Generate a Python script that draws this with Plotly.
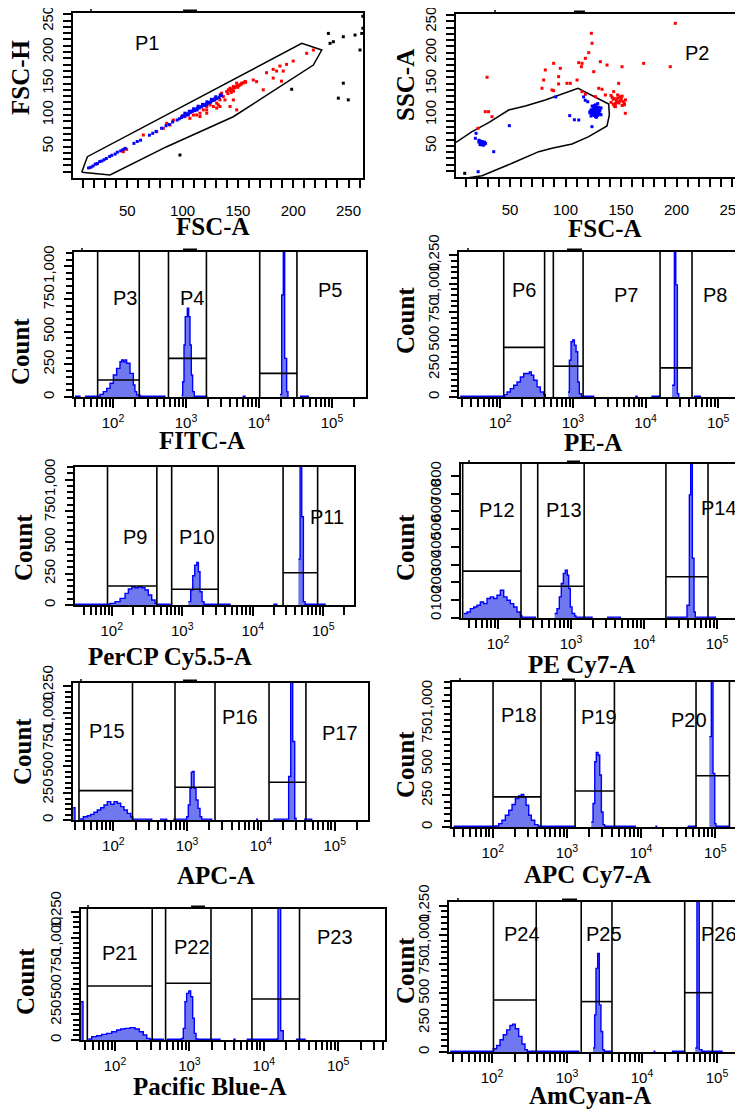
import plotly.graph_objects as go

# The page body adds an 8px margin, so reference pixel positions are shifted by OFF.
REF_W, REF_H, OFF = 743, 1109, 8
W, H = REF_W - OFF, REF_H - OFF

# ---------------- Panel P1 : FSC-H vs FSC-A ----------------
p1_gate_x = [8.8, 13.9, 207.7, 225.8, 218.2, 197.1, 145.8, 85.6, 34.4, 8.8]
p1_gate_y = [9.0, 33.8, 213.8, 203.2, 179.4, 155.6, 97.3, 49.7, 4.8, 9.0]
p1_blue_x = [15, 17, 19, 21, 23, 25, 27, 29, 31, 34, 36, 39, 41, 44, 46, 48, 56, 59, 62, 70,
             73, 76, 81, 85, 88, 91, 95, 97, 99, 101, 103, 105, 107, 109, 111, 113, 115, 117, 119, 121,
             123, 125, 127, 129, 131, 133, 135, 100, 104, 108, 112, 116, 120, 124, 128, 110, 118, 126, 114, 122,
             102, 106, 110, 114, 118, 122, 126, 130, 134, 105, 113, 121, 129]
p1_blue_y = [16, 17, 19, 22, 23, 26, 27, 29, 31, 34, 36, 38, 41, 43, 45, 47, 55, 58, 60, 68,
             71, 74, 79, 83, 85, 89, 92, 94, 96, 98, 100, 101, 104, 106, 107, 110, 111, 113, 115, 117,
             119, 120, 123, 125, 126, 128, 131, 99, 102, 106, 109, 113, 116, 120, 124, 108, 115, 122, 112, 118,
             103, 106, 110, 114, 117, 121, 125, 129, 132, 100, 108, 116, 124]
p1_red_x = [22.3, 46.4, 49.4, 64.5, 76.6, 82.6, 85.6, 88.6, 91.6, 99.2, 112.7, 115.7, 118.7, 121.8, 127.8,
            130.8, 133.8, 136.8, 139.9, 142.9, 145.9, 148.9, 151.9, 156.5, 130.8, 121.8, 115.7, 133.8, 138.3,
            145.9, 148.9, 142.9, 163.9, 166.9, 172.9, 175.9, 181.9, 185.0, 188.0, 191.0, 194.0, 200.0, 189.4,
            181.9, 218.2, 212.2, 121.8, 124.8, 129.3, 135.3, 141.4, 147.4, 153.4, 109.7, 106.6, 102.1, 127.8,
            132.3, 143, 145, 147, 149, 151, 153, 150, 146, 144, 155, 157, 141]
p1_red_y = [22.2, 41.8, 45.5, 68.3, 73.5, 78.8, 86.8, 84.1, 92.0, 97.4, 100.0, 102.9, 108.2, 113.5, 124.1,
            118.8, 113.5, 129.4, 137.4, 142.6, 145.3, 150.6, 148.0, 153.3, 111.0, 102.9, 97.6, 124.0, 124.0,
            124.0, 108.2, 113.5, 155.6, 153.0, 140.0, 167.2, 172.5, 169.8, 177.8, 169.8, 180.4, 185.7, 153.8,
            158.7, 203.2, 198.0, 108.2, 116.1, 126.7, 134.7, 140.0, 144.2, 150.6, 100.0, 94.7, 97.4, 113.5,
            116.1, 139, 141, 143, 146, 147, 149, 144, 138, 136, 151, 152, 134]
p1_black_x = [231.8, 233.3, 236.3, 245.3, 255.9, 260.4, 263.0, 262.9, 245.3, 240.8, 249.8, 198.6, 97.6, 262.0]
p1_black_y = [229.6, 213.8, 216.4, 224.3, 227.0, 203.2, 237.6, 257.0, 150.6, 126.8, 124.1, 140.9, 36.5, 229.6]

# ---------------- Panel P2 : SSC-A vs FSC-A ----------------
p2_gate_x = [1.35, 15.8, 30.8, 48.8, 63.8, 81.8, 111.3, 138.9, 139.5, 137.4, 120.9, 105.9, 87.8, 75.9,
             51.8, 27.7, 24.8, -20, -20, 1.35]
p2_gate_y = [55.8, 72.8, 87.3, 107.7, 114.1, 123.8, 142.6, 117.4, 99.7, 82.0, 64.8, 53.1, 46.1, 40.7,
             22.0, 4.8, 2.1, -10, 50, 55.8]
p2_blue_x = [122, 123, 124, 125, 126, 127, 128, 129, 130, 131, 132, 123, 125, 127, 129, 131, 124, 126, 128, 130,
             122, 124, 126, 128, 130, 132, 125, 127, 129, 126, 128, 127, 129,
             22, 23, 24, 25, 26, 27, 24, 26, 23, 25, 27, 28, 22,
             49.4, 103.8, 111.9, 117.8, 116.3, 123.8, 18.8, 19.4, 35.3, 21.3, 91.2, 120, 108]
p2_blue_y = [105, 108, 102, 110, 106, 112, 104, 109, 103, 107, 111, 98, 100, 97, 99, 101, 114, 115, 113, 112,
             103, 106, 108, 110, 105, 100, 104, 102, 106, 99, 96, 116, 118,
             56, 58, 54, 57, 55, 53, 52, 51, 52, 55, 56, 54, 59,
             82.5, 98.6, 91.6, 123.3, 128.7, 80.9, 62.2, 70.2, 40.7, 8.5, 128.7, 121, 92]
p2_red_x = [89.3, 95.3, 93.8, 80.3, 81.8, 104.3, 101.3, 93.8, 110.4, 111.9, 114.9, 114.3, 117.9, 120.9, 123.9,
            123.3, 125.4, 131.4, 137.4, 150.9, 147.9, 129.9, 132.9, 126.9, 89.3, 87.8, 78.8, 29.3, 27.7, 30.7,
            33.8, 170.4, 194.4, 198.9, 135.9, 143.4, 153.9, 114.9, 117.9, 21.2,
            141, 143, 145, 147, 149, 151, 153, 142, 144, 146, 148, 150, 152, 154, 141, 145, 149, 153, 143, 147,
            151, 146, 150, 144, 148]
p2_red_y = [182.7, 174.7, 161.3, 155.9, 172.0, 150.6, 150.6, 149.6, 155.9, 183.8, 182.7, 177.3, 190.8, 199.9, 214.9,
            231.0, 169.3, 185.4, 180.0, 177.3, 150.6, 142.6, 141.0, 129.1, 138.8, 139.9, 142.6, 160.3, 105.0, 105.0,
            96.9, 182.7, 177.3, 247.0, 131.8, 137.2, 102.4, 137.2, 133.0, 78.3,
            120, 125, 118, 127, 122, 130, 116, 128, 114, 123, 119, 126, 121, 124, 131, 113, 129, 118, 117, 132,
            115, 121, 124, 126, 120]
p2_black_x = [9.2]
p2_black_y = [5.9]

# ---------------- Histograms (x in log10 units of intensity, y = count; None separates runs) ----------------
fitc_x = [1.479, 1.548, None,
          1.616, 1.822, 1.867, 1.914, 1.959, 2.005, 2.050, 2.096, 2.119, 2.142, 2.164, 2.187, 2.233, 2.279, 2.301, 2.324, 2.370, 2.712, None,
          2.941, 2.955, 2.973, 2.990, 3.018, 3.037, 3.055, 3.073, 3.091, 3.114, 3.284, None,
          3.777, 3.808, None,
          4.288, 4.311, 4.333, 4.352, 4.379, 4.397, None,
          4.562, 4.676]
fitc_y = [6, 0, None,
          6, 20, 41, 66, 105, 168, 219, 270, 283, 270, 283, 258, 181, 92, 41, 15, 6, 0, None,
          15, 117, 398, 615, 679, 615, 398, 168, 41, 6, 0, None,
          6, 0, None,
          20, 781, 1500, 296, 41, 0, None,
          6, 0]
fitc_gates = [(1.79, 2.36, 130), (2.76, 3.28, 296), (4.01, 4.52, 181)]
fitc_labels = [("P3", 2.164, 756), ("P4", 3.078, 756), ("P5", 4.973, 819)]

pe_x = [1.449, 2.000, 2.060, 2.092, 2.138, 2.184, 2.230, 2.276, 2.322, 2.368, 2.400, 2.427, 2.460, 2.506, 2.551, 2.598, 2.620, None,
        2.933, 2.951, 2.974, 2.997, 3.020, 3.043, 3.066, 3.088, 3.116, 3.286, None,
        3.859, 3.883, None,
        4.080, 4.190, None,
        4.365, 4.397, 4.416, 4.438, 4.457, None,
        4.664, 4.755]
pe_y = [6, 6, 21, 44, 74, 104, 133, 177, 207, 207, 222, 192, 148, 89, 44, 21, 0, None,
        44, 325, 488, 503, 458, 399, 133, 30, 6, 0, None,
        6, 0, None,
        6, 0, None,
        104, 1600, 990, 30, 0, None,
        6, 0]
pe_gates = [(2.047, 2.61, 438), (2.73, 3.14, 272), (4.20, 4.64, 257)]
pe_labels = [("P6", 2.322, 946), ("P7", 3.726, 902), ("P8", 4.961, 902)]

percp_x = [1.480, 1.976, 2.047, 2.118, 2.189, 2.236, 2.284, 2.330, 2.377, 2.426, 2.472, 2.519, 2.567, 2.614, 2.638, 2.827, None,
           3.087, 3.120, 3.149, 3.177, 3.206, 3.229, 3.252, 3.281, 3.309, 3.678, None,
           4.292, 4.340, None,
           4.647, 4.671, 4.695, 4.718, 4.742, 5.025]
percp_y = [6, 13, 27, 53, 93, 127, 146, 138, 146, 138, 119, 80, 40, 13, 6, 0, None,
           27, 119, 233, 318, 340, 265, 106, 27, 6, 0, None,
           6, 0, None,
           366, 1500, 703, 27, 6, 0]
percp_gates = [(1.94, 2.64, 151), (2.85, 3.51, 125), (4.43, 4.92, 257)]
percp_labels = [("P9", 2.33, 543), ("P10", 3.206, 543), ("P11", 5.06, 703)]

pecy7_x = [1.530, 1.575, 1.621, 1.667, 1.712, 1.758, 1.804, 1.849, 1.895, 1.941, 1.986, 2.032, 2.078, 2.123, 2.169, 2.215, 2.260, 2.306, 2.329, 2.511, None,
           2.776, 2.808, 2.840, 2.867, 2.895, 2.922, 2.950, 2.968, 2.990, 3.014, 3.050, 3.068, 3.288, None,
           3.493, 3.676, None,
           4.315, 4.589, 4.621, 4.640, 4.662, 4.685, 4.703, 4.977]
pecy7_y = [25, 34, 53, 62, 72, 90, 81, 110, 119, 110, 128, 156, 119, 100, 81, 62, 34, 11, 5, 0, None,
           25, 53, 119, 194, 251, 269, 241, 166, 62, 25, 11, 5, 0, None,
           5, 0, None,
           5, 72, 693, 1200, 336, 34, 5, 0]
pecy7_gates = [(1.516, 2.315, 264), (2.544, 3.18, 179), (4.30, 4.877, 232)]
pecy7_labels = [("P12", 1.986, 608), ("P13", 2.90, 608), ("P14", 5.03, 618)]

apc_x = [1.450, 1.481, None,
         1.549, 1.593, 1.648, 1.694, 1.738, 1.783, 1.829, 1.874, 1.919, 1.965, 2.010, 2.054, 2.100, 2.145, 2.190, 2.236, 2.262, 2.520, None,
         2.633, 2.724, None,
         2.813, 2.994, 3.016, 3.039, 3.057, 3.076, 3.094, 3.121, 3.148, 3.175, 3.198, 3.333, None,
         3.934, 3.952, None,
         4.168, 4.376, 4.404, 4.431, 4.458, 4.476, None,
         4.584, 4.688]
apc_y = [115, 0, None,
         9, 31, 40, 53, 72, 94, 115, 140, 172, 147, 172, 156, 125, 94, 62, 31, 8, 0, None,
         8, 0, None,
         8, 31, 140, 297, 447, 453, 297, 187, 109, 31, 8, 0, None,
         8, 0, None,
         8, 406, 1600, 733, 16, 0, None,
         8, 0]
apc_gates = [(1.535, 2.26, 274), (2.836, 3.378, 306), (4.11, 4.61, 353)]
apc_labels = [("P15", 1.91, 827), ("P16", 3.717, 967), ("P17", 5.072, 812)]

apccy7_x = [1.474, 2.035, 2.081, 2.125, 2.170, 2.216, 2.260, 2.305, 2.350, 2.385, 2.418, 2.449, 2.485, 2.520, 2.566, 2.610, 2.641, 3.113, None,
            3.329, 3.352, 3.375, 3.396, 3.419, 3.442, 3.464, 3.487, 3.509, 3.922, None,
            4.191, 4.209, None,
            4.627, 4.740, None,
            4.919, 4.946, 4.969, 4.992, 5.009, 5.189]
apccy7_y = [6, 8, 27, 53, 93, 133, 178, 226, 247, 258, 239, 173, 93, 53, 19, 8, 6, 0, None,
            40, 186, 518, 592, 571, 412, 119, 19, 6, 0, None,
            6, 0, None,
            6, 0, None,
            717, 1600, 425, 27, 6, 0]
apccy7_gates = [(2.004, 2.65, 239), (3.11, 3.64, 285), (4.74, 5.19, 406)]
apccy7_labels = [("P18", 2.35, 889), ("P19", 3.429, 876), ("P20", 4.646, 850)]

pb_x = [1.543, 1.570, None,
        1.641, 1.687, 1.754, 1.821, 1.888, 1.956, 2.023, 2.076, 2.134, 2.202, 2.269, 2.327, 2.380, 2.426, 2.470, 2.649, None,
        2.695, 2.896, 2.918, 2.941, 2.963, 2.991, 3.017, 3.044, 3.066, 3.089, 3.111, 3.411, None,
        3.590, 3.613, None,
        3.770, 4.173, 4.191, 4.227, 4.262, None,
        4.433, 4.554]
pb_y = [374, 0, None,
        10, 33, 42, 55, 65, 81, 98, 108, 114, 121, 108, 81, 49, 16, 8, 0, None,
        8, 16, 114, 374, 456, 479, 423, 212, 65, 10, 8, 0, None,
        8, 0, None,
        8, 10, 1600, 91, 0, None,
        8, 0]
pb_gates = [(1.628, 2.50, 528), (2.68, 3.29, 554), (3.84, 4.48, 401)]
pb_labels = [("P21", 2.067, 847), ("P22", 3.031, 912), ("P23", 4.957, 1010)]

am_x = [1.444, 2.018, 2.062, 2.107, 2.151, 2.196, 2.240, 2.276, 2.311, 2.356, 2.400, 2.440, 2.471, 3.156, None,
        3.347, 3.369, 3.387, 3.409, 3.431, 3.453, 3.476, 3.497, 3.600, None,
        4.156, 4.169, None,
        4.400, 4.556, None,
        4.711, 4.733, 4.764, 4.800, 5.067]
am_y = [6, 28, 56, 104, 147, 189, 226, 238, 198, 133, 68, 20, 6, 0, None,
        34, 317, 714, 841, 402, 175, 20, 6, 0, None,
        6, 0, None,
        6, 0, None,
        34, 1600, 20, 6, 0]
am_gates = [(2.02, 2.59, 444), (3.19, 3.60, 430), (4.57, 4.94, 506)]
am_labels = [("P24", 2.40, 1011), ("P25", 3.489, 1011), ("P26", 5.03, 1011)]

# tick labels
scatter_ticks = [50, 100, 150, 200, 250]
scatter_minor = list(range(10, 270, 10))
log_major = [100, 1000, 10000, 100000]
log_major_text = ["10<sup>2</sup>", "10<sup>3</sup>", "10<sup>4</sup>", "10<sup>5</sup>"]
log_minor = [k * 10 ** n for n in (1, 2, 3, 4, 5) for k in range(2, 10)]
count_ticks = [0, 250, 500, 750, 1000, 1250]
count_text = ["0", "250", "500", "750", "1,000", "1,250"]
pecy7_ticks = [0, 100, 200, 300, 400, 500, 600, 700, 800]
pecy7_text = ["0", "100", "200", "300", "400", "500", "600", "700", "800"]

# ---------------- layout specification (reference pixel frames: left, right, top, bottom) ----------------
hists = [
    dict(name="FITC-A", x=fitc_x, y=fitc_y, gates=fitc_gates, labels=fitc_labels, frame=(74, 366, 252, 397), xr=[1.466, 5.466], ymax=1110, right=False, title=(202, 440), ytitle=(21, 352)),
    dict(name="PE-A", x=pe_x, y=pe_y, gates=pe_gates, labels=pe_labels, frame=(459, 743, 252, 397), xr=[1.431, 5.342], ymax=1280, right=True, title=(593, 443), ytitle=(405, 321)),
    dict(name="PerCP Cy5.5-A", x=percp_x, y=percp_y, gates=percp_gates, labels=percp_labels, frame=(75, 354, 467, 605), xr=[1.479, 5.436], ymax=1100, right=False, title=(170, 656), ytitle=(23, 548)),
    dict(name="PE Cy7-A", x=pecy7_x, y=pecy7_y, gates=pecy7_gates, labels=pecy7_labels, frame=(461, 743, 464, 618), xr=[1.493, 5.356], ymax=867, right=True, title=(582, 664), ytitle=(405, 548)),
    dict(name="APC-A", x=apc_x, y=apc_y, gates=apc_gates, labels=apc_labels, frame=(73, 368, 683, 820), xr=[1.454, 5.451], ymax=1280, right=False, title=(216, 875), ytitle=(22, 752)),
    dict(name="APC Cy7-A", x=apccy7_x, y=apccy7_y, gates=apccy7_gates, labels=apccy7_labels, frame=(452, 743, 682, 827), xr=[1.451, 5.373], ymax=1150, right=True, title=(587, 874), ytitle=(405, 765)),
    dict(name="Pacific Blue-A", x=pb_x, y=pb_y, gates=pb_gates, labels=pb_labels, frame=(81, 385, 909, 1040), xr=[1.543, 5.629], ymax=1280, right=False, title=(209, 1086), ytitle=(25, 982)),
    dict(name="AmCyan-A", x=am_x, y=am_y, gates=am_gates, labels=am_labels, frame=(449, 743, 902, 1052), xr=[1.427, 5.347], ymax=1280, right=True, title=(590, 1095), ytitle=(405, 971)),
]

# small marks drawn above the top border of each plot (mark x, bar x0, bar x1, top y) in reference px
top_marks = [(91, 183, 197, 13), (495, 574, 585, 14), (82, 183, 197, 252), (468, 567, 582, 252),
             (469, 567, 580, 464), (81, 183, 197, 683), (460, 562, 575, 682), (88, 191, 205, 909),
             (458, 562, 577, 902)]

tick_font = dict(family="Liberation Sans Narrow, Liberation Sans, Arial", size=15, color="black")
title_font = dict(family="Liberation Serif, Times New Roman, serif", size=25, color="black")
gate_font = dict(family="Liberation Sans, Arial", size=20, color="black")
BLUE = "#0000ff"
FILL = "#6f78ee"


def fx(p):
    return min(max((p - OFF) / W, 0.0), 1.0)


def fy(p):
    return min(max(1 - (p - OFF) / H, 0.0), 1.0)


def dom_x(l, r):
    return [fx(l), fx(r)]


def dom_y(t, b):
    return [fy(b), fy(t)]


def runs(xs, ys):
    """split a None-separated series into runs; x converted from log10 units to intensity."""
    out, cx, cy = [], [], []
    for a, c in zip(xs, ys):
        if a is None:
            if cx:
                out.append((cx, cy))
            cx, cy = [], []
        else:
            cx.append(10 ** a)
            cy.append(c)
    if cx:
        out.append((cx, cy))
    return out


def base_axis():
    return dict(showline=True, linecolor="black", linewidth=2, ticks="outside", tickcolor="black",
                tickwidth=1.5, ticklen=8, showgrid=False, zeroline=False, tickfont=tick_font,
                fixedrange=True, automargin=False, ticklabeloverflow="allow")


fig = go.Figure()
layout = {}
annotations = []
shapes = []


def names(i):
    s = "" if i == 1 else str(i)
    return "x" + s, "y" + s, "xaxis" + s, "yaxis" + s


def title_ann(text, pos, angle=0):
    return dict(text="<b>%s</b>" % text, x=fx(pos[0]), y=fy(pos[1]), xref="paper", yref="paper",
                showarrow=False, font=title_font, textangle=angle, xanchor="center", yanchor="middle")


# ---- scatter panels ----
scat = [
    dict(gx=p1_gate_x, gy=p1_gate_y, bx=p1_blue_x, by=p1_blue_y, rx=p1_red_x, ry=p1_red_y, kx=p1_black_x, ky=p1_black_y,
         frame=(73, 363, 13, 178), xr=[0.9, 263.1], yr=[0, 262], right=False, xt="FSC-A", yt="FSC-H",
         title=(213, 227), ytitle=(20, 77), label=("P1", 67.5, 213.8)),
    dict(gx=p2_gate_x, gy=p2_gate_y, bx=p2_blue_x, by=p2_blue_y, rx=p2_red_x, ry=p2_red_y, kx=p2_black_x, ky=p2_black_y,
         frame=(456, 743, 14, 177), xr=[1.35, 259.9], yr=[0, 262], right=True, xt="FSC-A", yt="SSC-A",
         title=(605, 229), ytitle=(405, 85), label=("P2", 218.5, 198.9)),
]

i = 0
for p in scat:
    i += 1
    xa, ya, xk, yk = names(i)
    l, r, t, b = p["frame"]
    fig.add_trace(go.Scatter(x=p["gx"], y=p["gy"], mode="lines", line=dict(color="black", width=1.5),
                             xaxis=xa, yaxis=ya, hoverinfo="skip"))
    for cx, cy, col in ((p["kx"], p["ky"], "black"), (p["rx"], p["ry"], "#ff0000"), (p["bx"], p["by"], BLUE)):
        fig.add_trace(go.Scatter(x=cx, y=cy, mode="markers",
                                 marker=dict(symbol="square", size=3, color=col, line=dict(width=0)),
                                 xaxis=xa, yaxis=ya, hoverinfo="skip"))
    ax = base_axis()
    ax.update(domain=dom_x(l, r), range=p["xr"], anchor=ya, mirror=True, tickvals=scatter_ticks,
              ticktext=[str(v) for v in scatter_ticks], ticklabelstandoff=10,
              minor=dict(tickmode="array", tickvals=scatter_minor, ticks="outside", ticklen=8,
                         tickwidth=1.5, tickcolor="black"))
    ay = base_axis()
    ay.update(domain=dom_y(t, b), range=p["yr"], anchor=xa, mirror=not p["right"], tickvals=scatter_ticks,
              ticktext=[str(v) for v in scatter_ticks], tickangle=-90, ticklabelstandoff=4,
              minor=dict(tickmode="array", tickvals=scatter_minor, ticks="outside", ticklen=8,
                         tickwidth=1.5, tickcolor="black"))
    layout[xk] = ax
    layout[yk] = ay
    lab, lx, ly = p["label"]
    annotations.append(dict(text=lab, x=lx, y=ly, xref=xa, yref=ya, showarrow=False, font=gate_font))
    annotations.append(title_ann(p["xt"], p["title"]))
    annotations.append(title_ann(p["yt"], p["ytitle"], -90))

# ---- histogram panels ----
for p in hists:
    i += 1
    xa, ya, xk, yk = names(i)
    l, r, t, b = p["frame"]
    for rx, ry in runs(p["x"], p["y"]):
        fig.add_trace(go.Scatter(x=rx, y=ry, mode="lines", fill="tozeroy", fillcolor=FILL,
                                 line=dict(color=BLUE, width=1.4, shape="hv"),
                                 xaxis=xa, yaxis=ya, hoverinfo="skip"))
    gx, gy = [], []
    top = p["ymax"] * 1.02
    for g0, g1, gh in p["gates"]:
        gx += [10 ** g0, 10 ** g0, None, 10 ** g1, 10 ** g1, None, 10 ** g0, 10 ** g1, None]
        gy += [0, top, None, 0, top, None, gh, gh, None]
    fig.add_trace(go.Scatter(x=gx, y=gy, mode="lines", line=dict(color="black", width=1.6),
                             xaxis=xa, yaxis=ya, hoverinfo="skip"))
    ax = base_axis()
    ax.update(domain=dom_x(l, r), type="log", range=p["xr"], anchor=ya, mirror=True,
              tickvals=log_major, ticktext=log_major_text, ticklen=9, ticklabelstandoff=2,
              minor=dict(tickmode="array", tickvals=log_minor, ticks="outside", ticklen=8,
                         tickwidth=1.5, tickcolor="black"))
    ay = base_axis()
    if p["name"] == "PE Cy7-A":
        tv, tt, mn = pecy7_ticks, pecy7_text, None
    else:
        tv, tt = count_ticks, count_text
        mn = dict(tickmode="linear", tick0=0, dtick=50, ticks="outside", ticklen=6, tickwidth=1.5,
                  tickcolor="black")
    ay.update(domain=dom_y(t, b), range=[0, p["ymax"]], anchor=xa, mirror=not p["right"],
              tickvals=tv, ticktext=tt, tickangle=-90, ticklabelstandoff=4)
    if mn:
        ay["minor"] = mn
    layout[xk] = ax
    layout[yk] = ay
    for lab, lx, ly in p["labels"]:
        annotations.append(dict(text=lab, x=lx, y=ly, xref=xa, yref=ya, showarrow=False, font=gate_font))
    annotations.append(title_ann(p["name"], p["title"]))
    annotations.append(title_ann("Count", p["ytitle"], -90))

for mx, b0, b1, tp in top_marks:
    shapes.append(dict(type="line", xref="paper", yref="paper", x0=fx(mx), x1=fx(mx),
                       y0=fy(tp), y1=fy(tp - 4), line=dict(color="black", width=1.5)))
    shapes.append(dict(type="rect", xref="paper", yref="paper", x0=fx(b0), x1=fx(b1),
                       y0=fy(tp), y1=fy(tp - 3.5), fillcolor="black", line=dict(width=0)))

fig.update_layout(width=W, height=H, autosize=False, margin=dict(l=0, r=0, t=0, b=0, pad=0),
                  paper_bgcolor="white", plot_bgcolor="white", showlegend=False,
                  annotations=annotations, shapes=shapes, **layout)

fig.write_html("out.html")
